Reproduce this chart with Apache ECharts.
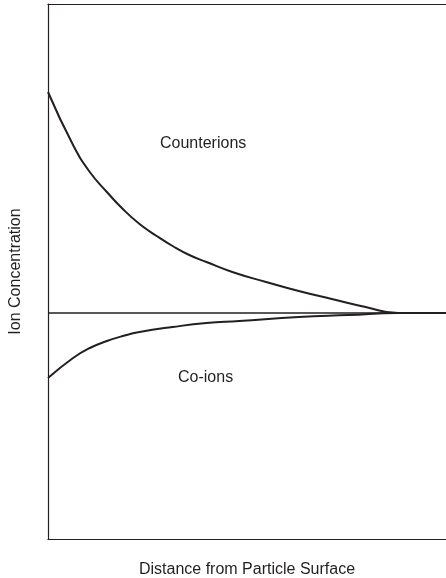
<!DOCTYPE html>
<html>
<head>
<meta charset="utf-8">
<script src="https://cdn.jsdelivr.net/npm/echarts@6/dist/echarts.min.js"></script>
<style>
  html, body { margin: 0; padding: 0; background: #fff; }
  #chart { width: 446px; height: 578px; }
</style>
</head>
<body>
<div id="chart"></div>
<script>
// distance from surface (arbitrary units)
const counterX = [0, 0.63, 1.05, 1.48, 1.88, 2.3, 2.73, 3.13, 3.55, 3.98, 4.63, 5.48, 6.3, 7.13, 7.98, 8.8, 10]
const counterY = [4.47, 3.94, 3.67, 3.47, 3.30, 3.15, 3.03, 2.93, 2.84, 2.77, 2.67, 2.57, 2.48, 2.40, 2.32, 2.26, 2.26]

const coionX = [0, 0.63, 1.05, 1.48, 1.88, 2.3, 3.13, 3.98, 4.8, 6.3, 7.55, 8.8, 10]
const coionY = [1.61, 1.81, 1.91, 1.98, 2.03, 2.07, 2.12, 2.16, 2.18, 2.22, 2.24, 2.26, 2.26]

const bulkLevel = 2.26
const xTitle = 'Distance from Particle Surface'
const yTitle = 'Ion Concentration'

const ink = '#231f20'
const font = 'Liberation Sans, Arial, sans-serif'

const pairs = (xs, ys) => xs.map((x, i) => [x, ys[i]])

const frameLine = { show: true, lineStyle: { color: ink, width: 1.2 } }
const hidden = {
  axisTick: { show: false },
  axisLabel: { show: false },
  splitLine: { show: false }
}

const myChart = echarts.init(document.getElementById('chart'))
const option = {
  animation: false,
  grid: {
    left: 48,
    right: 0,
    top: 4,
    bottom: 39,
    containLabel: false,
    outerBoundsMode: 'none'
  },
  xAxis: [
    {
      type: 'value',
      min: 0,
      max: 10,
      name: xTitle,
      nameLocation: 'middle',
      nameGap: 23,
      nameTextStyle: { fontSize: 16, color: ink, fontFamily: font },
      axisLine: frameLine,
      ...hidden
    },
    {
      type: 'value',
      position: 'top',
      min: 0,
      max: 10,
      axisLine: frameLine,
      ...hidden
    }
  ],
  yAxis: {
    type: 'value',
    min: 0,
    max: 5.35,
    name: yTitle,
    nameLocation: 'middle',
    nameGap: 24,
    nameTextStyle: { fontSize: 16, color: ink, fontFamily: font },
    axisLine: frameLine,
    ...hidden
  },
  series: [
    {
      name: 'bulk',
      type: 'line',
      data: [[0, bulkLevel], [10, bulkLevel]],
      symbol: 'none',
      lineStyle: { color: ink, width: 1.3 },
      z: 1
    },
    {
      name: 'Counterions',
      type: 'line',
      data: pairs(counterX, counterY),
      smooth: 0.5,
      symbol: 'none',
      lineStyle: { color: ink, width: 2 }
    },
    {
      name: 'Co-ions',
      type: 'line',
      data: pairs(coionX, coionY),
      smooth: 0.5,
      symbol: 'none',
      lineStyle: { color: ink, width: 2 }
    }
  ],
  graphic: [
    {
      type: 'text',
      left: 160,
      top: 136,
      style: { text: 'Counterions', fontSize: 16, fill: ink, fontFamily: font }
    },
    {
      type: 'text',
      left: 178,
      top: 370,
      style: { text: 'Co-ions', fontSize: 16, fill: ink, fontFamily: font }
    }
  ]
}
myChart.setOption(option)
</script>
</body>
</html>
